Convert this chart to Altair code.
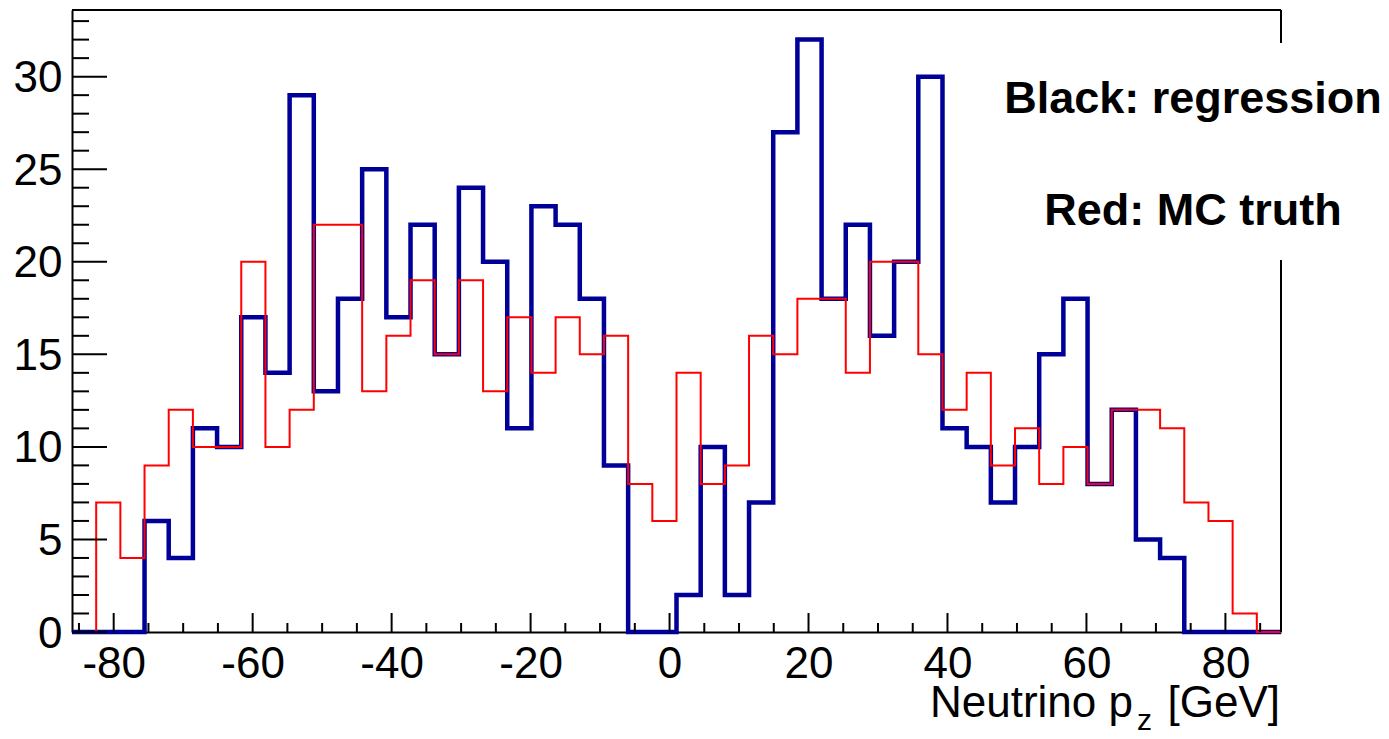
import altair as alt
import numpy as np
import pandas as pd

# ---- data (50 bins, -86 .. 88 GeV) ----
BIN_LO, BIN_HI, N_BINS = -86.0, 88.0, 50
regression = [0, 0, 0, 6, 4, 11, 10, 17, 14, 29,
              13, 18, 25, 17, 22, 15, 24, 20, 11, 23,
              22, 18, 9, 0, 0, 2, 10, 2, 7, 27,
              32, 18, 22, 16, 20, 30, 11, 10, 7, 10,
              15, 18, 8, 12, 5, 4, 0, 0, 0, 0]
mc_truth = [0, 7, 4, 9, 12, 10, 10, 20, 10, 12,
            22, 22, 13, 16, 19, 15, 19, 13, 17, 14,
            17, 15, 16, 8, 6, 14, 8, 9, 16, 15,
            18, 18, 14, 20, 20, 15, 12, 14, 9, 11,
            8, 10, 8, 12, 12, 11, 7, 6, 1, 0]
x_major = [-80, -60, -40, -20, 0, 20, 40, 60, 80]
x_minor = [v for v in range(-85, 90, 5) if v not in x_major]
y_major = [0, 5, 10, 15, 20, 25, 30]
y_minor = [v for v in range(0, 34) if v not in y_major]
Y_MAX = 33.6

edges = np.linspace(BIN_LO, BIN_HI, N_BINS + 1)


def step_df(vals):
    xs = list(edges[:-1]) + [edges[-1]]
    ys = list(vals) + [vals[-1]]
    return pd.DataFrame({"pz": xs, "count": ys})


W, H = 1209, 622
FONT = "Liberation Sans"

xscale = alt.Scale(domain=[BIN_LO, BIN_HI], nice=False, zero=False)
yscale = alt.Scale(domain=[0, Y_MAX], nice=False, zero=True)

label_expr = "datum.value < 0 ? '-' + abs(datum.value) : '' + datum.value"
xaxis = alt.Axis(values=x_major, title=None, ticks=False, grid=False, domain=True,
                 domainColor="black", domainWidth=2, labelFont=FONT, labelFontSize=44,
                 labelColor="black", labelPadding=10, labelFlush=False,
                 labelOverlap=False, labelExpr=label_expr)
yaxis = alt.Axis(values=y_major, title=None, ticks=False, grid=False, domain=True,
                 domainColor="black", domainWidth=2, labelFont=FONT, labelFontSize=44,
                 labelColor="black", labelPadding=10, labelOffset=2,
                 labelOverlap=False, labelExpr=label_expr)

blue = alt.Chart(step_df(regression)).mark_line(
    interpolate="step-after", color="#000099", strokeWidth=4.5
).encode(x=alt.X("pz:Q", scale=xscale, axis=xaxis),
         y=alt.Y("count:Q", scale=yscale, axis=yaxis))

red = alt.Chart(step_df(mc_truth)).mark_line(
    interpolate="step-after", color="#ff0000", strokeWidth=2
).encode(x=alt.X("pz:Q", scale=xscale, axis=xaxis),
         y=alt.Y("count:Q", scale=yscale, axis=yaxis))

xt_major = alt.Chart(pd.DataFrame({"v": x_major})).mark_rule(color="black", strokeWidth=2).encode(
    x=alt.X("v:Q", scale=xscale, axis=xaxis), y=alt.value(H), y2=alt.value(H - 19))
xt_minor = alt.Chart(pd.DataFrame({"v": x_minor})).mark_rule(color="black", strokeWidth=2).encode(
    x=alt.X("v:Q", scale=xscale, axis=xaxis), y=alt.value(H), y2=alt.value(H - 9))
yt_major = alt.Chart(pd.DataFrame({"v": y_major})).mark_rule(color="black", strokeWidth=2).encode(
    y=alt.Y("v:Q", scale=yscale, axis=yaxis), x=alt.value(0), x2=alt.value(35))
yt_minor = alt.Chart(pd.DataFrame({"v": y_minor})).mark_rule(color="black", strokeWidth=2).encode(
    y=alt.Y("v:Q", scale=yscale, axis=yaxis), x=alt.value(0), x2=alt.value(17))

dummy = pd.DataFrame({"d": [0]})
frame_top = alt.Chart(dummy).mark_rule(color="black", strokeWidth=2).encode(
    x=alt.value(0), x2=alt.value(W), y=alt.value(0))
frame_r1 = alt.Chart(dummy).mark_rule(color="black", strokeWidth=2).encode(
    x=alt.value(W), y=alt.value(0), y2=alt.value(33))
frame_r2 = alt.Chart(dummy).mark_rule(color="black", strokeWidth=2).encode(
    x=alt.value(W), y=alt.value(250), y2=alt.value(H))


def txt(text, x, y, size, align, weight="normal"):
    return alt.Chart(dummy).mark_text(
        text=text, font=FONT, fontSize=size, fontWeight=weight, align=align,
        baseline="alphabetic", color="black"
    ).encode(x=alt.value(x), y=alt.value(y))


legend1 = txt("Black: regression", 1121, 103, 45, "center", "bold")
legend2 = txt("Red: MC truth", 1121, 215, 45, "center", "bold")
title_a = txt("Neutrino p", 1061, 707, 44, "right")
title_z = txt("z", 1065, 720, 30, "left")
title_b = txt("[GeV]", 1208, 707, 44, "right")

chart = alt.layer(
    blue, red, xt_major, xt_minor, yt_major, yt_minor,
    frame_top, frame_r1, frame_r2,
    legend1, legend2, title_a, title_z, title_b
).properties(
    width=W, height=H,
    padding={"left": 64, "top": 2, "right": 100, "bottom": 99},
    autosize=alt.AutoSizeParams(type="none"),
    background="white",
).configure_view(strokeWidth=0)

chart.save("out.html", embed_options={"renderer": "svg", "actions": False})
